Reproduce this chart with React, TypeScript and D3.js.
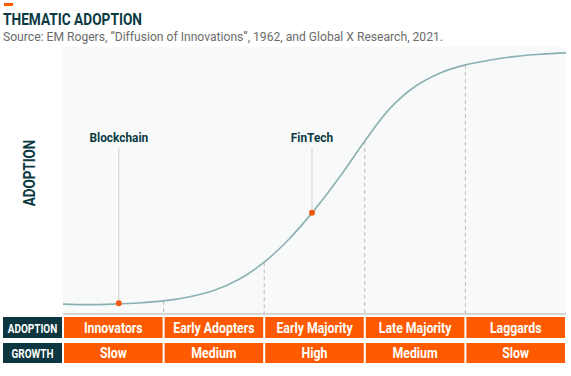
import React from "react";
import * as d3 from "d3";

const W = 571;
const H = 376;

// Adoption curve: progress (0-100) vs adoption (0-100)
const curveX = [0, 5, 10, 15, 20, 25, 30, 35, 40, 45, 50, 55, 60, 65, 70, 75, 80, 85, 90, 95, 100];
const curveY = [3.7, 3.5, 3.7, 4.1, 4.9, 6.4, 8.8, 13.0, 19.4, 28.2, 39.0, 51.3, 64.8, 77.0, 85.2, 90.3, 93.3, 95.1, 96.5, 97.3, 97.8];

const stageBounds = [20, 40, 60, 80];
const stages = ["Innovators", "Early Adopters", "Early Majority", "Late Majority", "Laggards"];
const growth = ["Slow", "Medium", "High", "Medium", "Slow"];
const stageStart = [0, 20, 40, 60, 80];
const stageEnd = [20, 40, 60, 80, 100];

const markerNames = ["Blockchain", "FinTech"];
const markerX = [11.1, 49.5];
const markerY = [4.0, 37.9];

const rowLabels = ["ADOPTION", "GROWTH"];

const title = "THEMATIC ADOPTION";
const source = "Source: EM Rogers, \u201cDiffusion of Innovations\u201d, 1962, and Global X Research, 2021.";
const yAxisLabel = "ADOPTION";

const ORANGE = "#ff5a00";
const DARK = "#0d3640";
const TEAL_TEXT = "#0c3a42";
const CURVE = "#8bb0b2";

const FONT = "Roboto, 'Noto Sans', sans-serif";

const plot = { left: 63, right: 566, top: 47, bottom: 314 };

function SText(props: {
  x: number; y: number; sx: number; size: number; weight?: number; fill: string;
  anchor?: string; rotate?: number; children: React.ReactNode;
}) {
  const { x, y, sx, size, weight = 700, fill, anchor = "middle", rotate = 0, children } = props;
  return (
    <g transform={`translate(${x},${y}) rotate(${rotate}) scale(${sx},1)`}>
      <text x={0} y={0} fontFamily={FONT} fontSize={size} fontWeight={weight} fill={fill} textAnchor={anchor}>
        {children}
      </text>
    </g>
  );
}

export default function App() {
  const x = d3.scaleLinear().domain([0, 100]).range([plot.left, plot.right]);
  const y = d3.scaleLinear().domain([0, 100]).range([plot.bottom, plot.top]);

  const pts: [number, number][] = curveX.map((v, i) => [v, curveY[i]]);
  const line = d3
    .line<[number, number]>()
    .x((d) => x(d[0]))
    .y((d) => y(d[1]))
    .curve(d3.curveCatmullRom.alpha(0.5));

  const yAt = (v: number) => {
    const i = curveX.indexOf(v);
    return curveY[i];
  };

  const row1 = { top: 317, bottom: 338 };
  const row2 = { top: 343, bottom: 363 };

  return (
    <svg width={W} height={H} style={{ position: "absolute", left: 0, top: 0, background: "#fff" }}>
      {/* header */}
      <rect x={4} y={3} width={9} height={3} fill={ORANGE} />
      <text x={3} y={25} fontFamily={FONT} fontSize={17} fontWeight={700} fill={TEAL_TEXT}
        textLength={139} lengthAdjust="spacingAndGlyphs">{title}</text>
      <text x={3} y={41} fontFamily={FONT} fontSize={12.5} fontWeight={400} fill="#6b6b6b"
        textLength={440} lengthAdjust="spacingAndGlyphs">{source}</text>

      {/* plot background */}
      <rect x={plot.left} y={plot.top} width={plot.right - plot.left} height={plot.bottom - plot.top} fill="#f8fafa" />

      {/* dashed stage boundaries */}
      {stageBounds.map((b) => (
        <line key={b} x1={x(b)} x2={x(b)} y1={y(yAt(b))} y2={plot.bottom}
          stroke="#b8b8b8" strokeWidth={1} strokeDasharray="4,3" />
      ))}

      {/* bottom border */}
      <line x1={plot.left} x2={plot.right} y1={plot.bottom} y2={plot.bottom} stroke="#c9c9c9" strokeWidth={1.5} />

      {/* curve */}
      <path d={line(pts) || ""} fill="none" stroke={CURVE} strokeWidth={1.6} />

      {/* markers */}
      {markerNames.map((n, i) => (
        <g key={n}>
          <line x1={x(markerX[i])} x2={x(markerX[i])} y1={148} y2={y(markerY[i])} stroke="#cfcfcf" strokeWidth={1} />
          <circle cx={x(markerX[i])} cy={y(markerY[i])} r={3} fill="#f25a14" />
          <SText x={x(markerX[i])} y={142} sx={0.88} size={13.5} fill={TEAL_TEXT}>{n}</SText>
        </g>
      ))}

      {/* y axis label */}
      <SText x={35} y={173} sx={0.84} size={16} fill={TEAL_TEXT} rotate={-90}>{yAxisLabel}</SText>

      {/* table row labels */}
      {rowLabels.map((l, i) => {
        const r = i === 0 ? row1 : row2;
        return (
          <g key={l}>
            <rect x={3} y={r.top} width={59} height={r.bottom - r.top} fill={DARK} />
            <SText x={32.5} y={r.bottom - 5} sx={0.83} size={12} fill="#fff">{l}</SText>
          </g>
        );
      })}

      {/* table cells */}
      {stages.map((s, i) => {
        const x0 = x(stageStart[i]) + 1;
        const x1 = x(stageEnd[i]) - 1;
        const cx = (x0 + x1) / 2;
        return (
          <g key={s}>
            <rect x={x0} y={row1.top} width={x1 - x0} height={row1.bottom - row1.top} fill={ORANGE} />
            <rect x={x0} y={row2.top} width={x1 - x0} height={row2.bottom - row2.top} fill={ORANGE} />
            <SText x={cx} y={row1.bottom - 5} sx={0.88} size={14} fill="#fff">{s}</SText>
            <SText x={cx} y={row2.bottom - 5} sx={0.88} size={14} fill="#fff">{growth[i]}</SText>
          </g>
        );
      })}
    </svg>
  );
}
